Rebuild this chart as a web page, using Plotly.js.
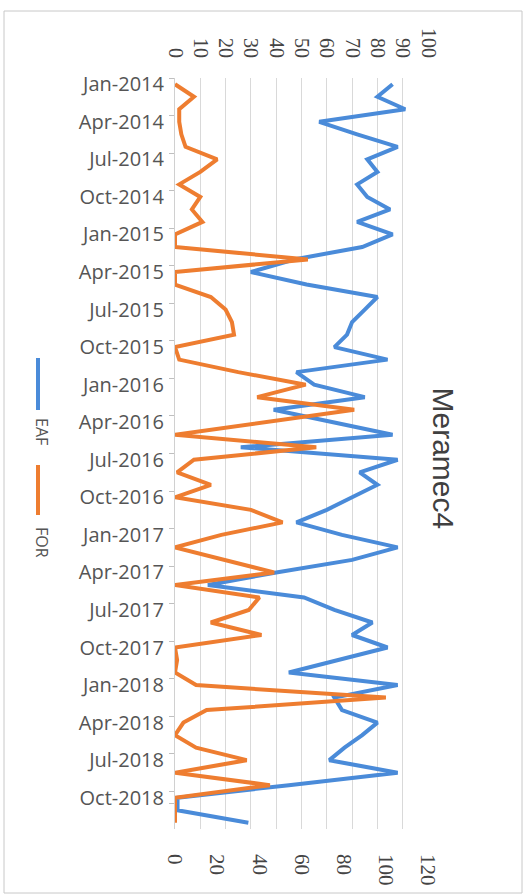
<!DOCTYPE html>
<html>
<head>
<meta charset="utf-8">
<script src="https://cdn.plot.ly/plotly-3.0.1.min.js"></script>
<style>html,body{margin:0;padding:0;background:#fff;}#chart{width:529px;height:895px;}</style>
</head>
<body>
<div id="chart"></div>
<script>
var months = ["Jan-2014","Feb-2014","Mar-2014","Apr-2014","May-2014","Jun-2014","Jul-2014","Aug-2014","Sep-2014","Oct-2014","Nov-2014","Dec-2014",
"Jan-2015","Feb-2015","Mar-2015","Apr-2015","May-2015","Jun-2015","Jul-2015","Aug-2015","Sep-2015","Oct-2015","Nov-2015","Dec-2015",
"Jan-2016","Feb-2016","Mar-2016","Apr-2016","May-2016","Jun-2016","Jul-2016","Aug-2016","Sep-2016","Oct-2016","Nov-2016","Dec-2016",
"Jan-2017","Feb-2017","Mar-2017","Apr-2017","May-2017","Jun-2017","Jul-2017","Aug-2017","Sep-2017","Oct-2017","Nov-2017","Dec-2017",
"Jan-2018","Feb-2018","Mar-2018","Apr-2018","May-2018","Jun-2018","Jul-2018","Aug-2018","Sep-2018","Oct-2018","Nov-2018","Dec-2018"];

var tickLabels = ["Jan-2014","Apr-2014","Jul-2014","Oct-2014","Jan-2015","Apr-2015","Jul-2015","Oct-2015",
"Jan-2016","Apr-2016","Jul-2016","Oct-2016","Jan-2017","Apr-2017","Jul-2017","Oct-2017",
"Jan-2018","Apr-2018","Jul-2018","Oct-2018"];

var eaf = [86,80,91,57,72,88,76,80,72,76,85,72,
           86,74,47,30,52,80,75,70,68,63,84,48,
           55,75,39,62,86,26,88,73,80,70,60,48,
           66,88,70,40,13,51,63,78,70,84,65,45,
           88,63,66,80,74,67,61,88,45,1,1,29];

var forr = [0,9,2,2,3,5,20,12,2,12,8,13,
            0,0,63,0,0,17,24,27,28,0,2,30,
            62,39,85,42,0,67,9,1,17,0,36,51,
            22,0,24,47,0,40,35,17,41,0,1,0,
            10,100,15,4,0,10,34,0,45,0,0,0];

var seriesNames = ["EAF","FOR"];
var colors = ["#4a8bd9","#ee7d30"];
var titleText = "Meramec4";

var traces = [
  {x: eaf, y: months, name: seriesNames[0], type: "scatter", mode: "lines",
   xaxis: "x", yaxis: "y", line: {color: colors[0], width: 4}, showlegend: false},
  {x: forr, y: months, name: seriesNames[1], type: "scatter", mode: "lines",
   xaxis: "x2", yaxis: "y", line: {color: colors[1], width: 4}, showlegend: false}
];

function px(xp){return (xp-175)/253;}
function py(yp){return (829-yp)/751;}

var layout = {
  width: 529, height: 895,
  margin: {l: 175, r: 101, t: 78, b: 66},
  paper_bgcolor: "#ffffff", plot_bgcolor: "#ffffff",
  showlegend: false,
  xaxis: {side: "top", range: [0, 100], dtick: 10, tickmode: "linear",
          showgrid: true, gridcolor: "#d9d9d9", gridwidth: 1, zeroline: false,
          showline: false, ticks: "", tickangle: 90, ticklabelstandoff: 16,
          tickfont: {family: "Liberation Serif", size: 20, color: "#444"}},
  xaxis2: {overlaying: "x", side: "bottom", anchor: "y", range: [0, 120], dtick: 20, tickmode: "linear",
          showgrid: false, zeroline: false, showline: false, ticks: "", tickangle: 90, ticklabelstandoff: 24,
          tickfont: {family: "Liberation Serif", size: 21, color: "#444"}},
  yaxis: {type: "category", range: [59.5, -0.5], tickmode: "array", tickvals: tickLabels, ticktext: tickLabels,
          tickson: "boundaries", ticks: "outside", ticklen: 5, tickcolor: "#bfbfbf",
          showgrid: false, showline: true, linecolor: "#d0d0d0", zeroline: false, ticklabelstandoff: 6,
          tickfont: {family: "Open Sans", size: 20, color: "#555"}},
  shapes: [
    {type: "rect", xref: "paper", yref: "paper", x0: px(4), x1: px(522), y0: py(893), y1: py(11),
     line: {color: "#c8c8c8", width: 1}},
    {type: "line", xref: "paper", yref: "paper", x0: px(38), x1: px(38), y0: py(358), y1: py(410),
     line: {color: colors[0], width: 4}},
    {type: "line", xref: "paper", yref: "paper", x0: px(38), x1: px(38), y0: py(465), y1: py(515),
     line: {color: colors[1], width: 4}}
  ],
  annotations: [
    {text: titleText, xref: "paper", yref: "paper", x: px(462), y: py(458), showarrow: false,
     textangle: 90, font: {family: "Liberation Sans", size: 30, color: "#404040"}},
    {text: seriesNames[0], xref: "paper", yref: "paper", x: px(29), y: py(431), showarrow: false,
     textangle: 90, font: {family: "Open Sans", size: 16, color: "#555"}},
    {text: seriesNames[1], xref: "paper", yref: "paper", x: px(29), y: py(542), showarrow: false,
     textangle: 90, font: {family: "Open Sans", size: 16, color: "#555"}}
  ]
};

Plotly.newPlot("chart", traces, layout, {displayModeBar: false, staticPlot: true});
</script>
</body>
</html>
